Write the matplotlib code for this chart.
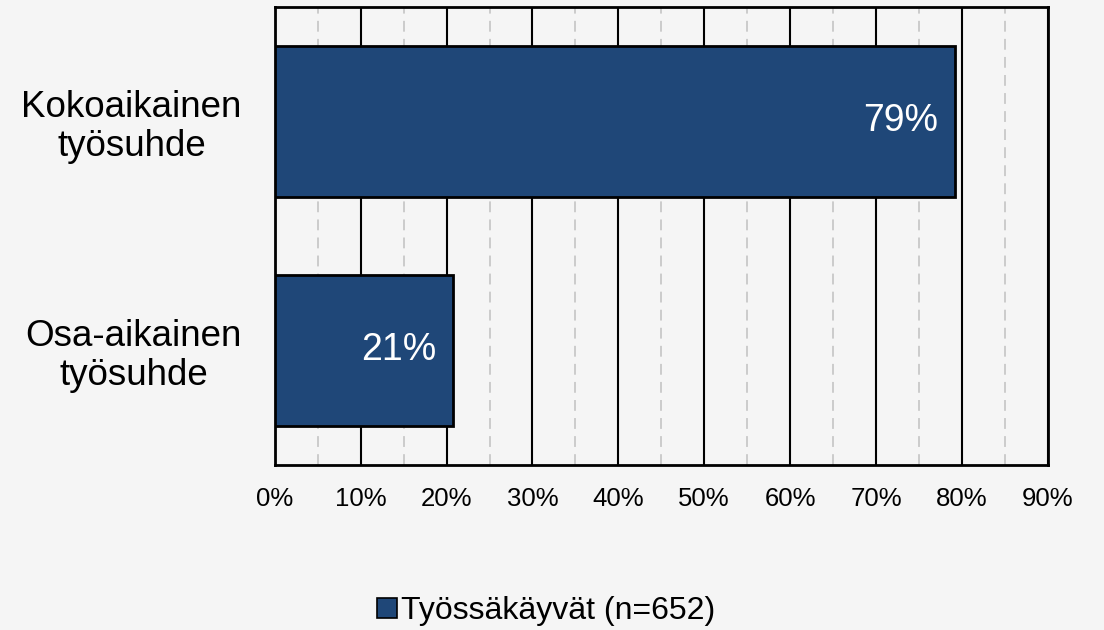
import matplotlib.pyplot as plt
import numpy as np
from matplotlib.patches import Patch

plt.rcParams['font.family'] = ['Liberation Sans', 'DejaVu Sans']

# data
categories = ["Osa-aikainen\ntyösuhde", "Kokoaikainen\ntyösuhde"]
values = [20.8, 79.2]
value_labels = ["21%", "79%"]
series_name = "Työssäkäyvät (n=652)"
xticks = np.arange(0, 91, 10)

bar_color = "#1f4778"
bg = "#f5f5f5"

fig = plt.figure(figsize=(11.04, 6.3), dpi=100, facecolor=bg)
ax = fig.add_axes([0.249, 0.262, 0.700, 0.727], facecolor=bg)

ypos = np.arange(len(categories))
ax.barh(ypos, values, height=0.66, color=bar_color, edgecolor="black",
        linewidth=2, zorder=3)

for y, v, lab in zip(ypos, values, value_labels):
    ax.text(v - 2, y, lab, ha="right", va="center", color="white",
            fontsize=27, zorder=4)

ax.set_xlim(0, 90)
ax.set_ylim(-0.5, 1.5)
ax.set_xticks(xticks)
ax.set_xticklabels([f"{t}%" for t in xticks], fontsize=18.5)
ax.set_xticks(np.arange(5, 90, 10), minor=True)
ax.set_yticks(ypos)
ax.set_yticklabels(categories, fontsize=26.5, multialignment="center",
                   linespacing=1.12)

ax.grid(axis="x", which="major", color="black", linewidth=1.5, zorder=1)
ax.grid(axis="x", which="minor", color="#c8c8c8", linewidth=1.3,
        linestyle=(0, (6, 4)), zorder=1)
ax.set_axisbelow(True)

ax.tick_params(axis="x", which="both", length=0, pad=16)
ax.tick_params(axis="y", length=0, pad=24)
for s in ax.spines.values():
    s.set_color("black")
    s.set_linewidth(2)

handle = Patch(facecolor=bar_color, edgecolor="black", linewidth=1.2)
fig.legend([handle], [series_name], loc="center", bbox_to_anchor=(0.495, 0.03),
           frameon=False, fontsize=23, handlelength=0.6, handleheight=0.6,
           handletextpad=0.15)

fig.savefig("out.png", dpi=100, facecolor=bg)
